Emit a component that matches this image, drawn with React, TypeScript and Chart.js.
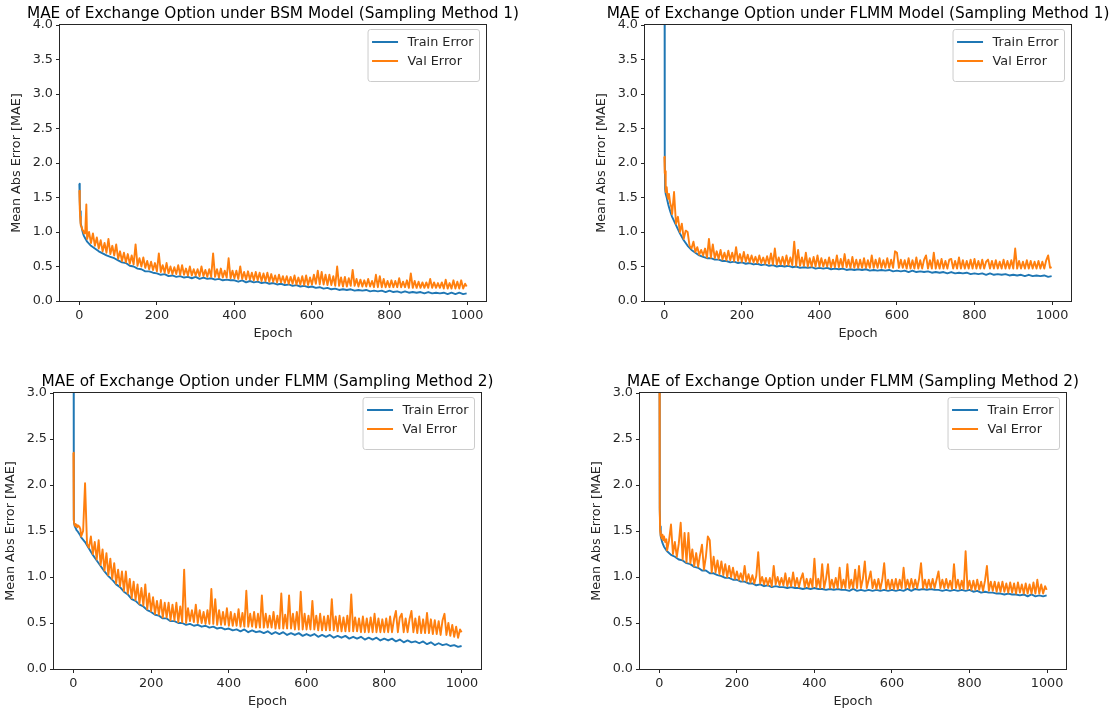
import React, { useEffect, useRef } from "react";
import { Chart, registerables } from "chart.js";

Chart.register(...registerables);

const FONT = "'DejaVu Sans', 'Liberation Sans', sans-serif";
const TEXT = "#262626";
const TRAIN_COLOR = "#1f77b4";
const VAL_COLOR = "#ff7f0e";
const TICK_SIZE = 12.8;
const TITLE_SIZE = 15.3;

const seriesLabels = ["Train Error", "Val Error"];
const xLabel = "Epoch";
const yLabel = "Mean Abs Error [MAE]";
const xTicks = [0, 200, 400, 600, 800, 1000];
const yTicks4 = [0, 0.5, 1, 1.5, 2, 2.5, 3, 3.5, 4];
const yTicks3 = [0, 0.5, 1, 1.5, 2, 2.5, 3];

const titles = [
  "MAE of Exchange Option under BSM Model (Sampling Method 1)",
  "MAE of Exchange Option under FLMM Model (Sampling Method 1)",
  "MAE of Exchange Option under FLMM (Sampling Method 2)",
  "MAE of Exchange Option under FLMM (Sampling Method 2)",
];

// epochs at which the training curves were read
const trainEpochs = [
  0, 1, 2, 3, 4, 6, 8, 10, 12, 15, 18,
  20, 30, 40, 50, 60, 70, 80, 90,
  100, 110, 120, 130, 140, 150, 160, 170, 180, 190,
  200, 210, 220, 230, 240, 250, 260, 270, 280, 290,
  300, 310, 320, 330, 340, 350, 360, 370, 380, 390,
  400, 410, 420, 430, 440, 450, 460, 470, 480, 490,
  500, 510, 520, 530, 540, 550, 560, 570, 580, 590,
  600, 610, 620, 630, 640, 650, 660, 670, 680, 690,
  700, 710, 720, 730, 740, 750, 760, 770, 780, 790,
  800, 810, 820, 830, 840, 850, 860, 870, 880, 890,
  900, 910, 920, 930, 940, 950, 960, 970, 980, 990,
  999,
];

// epochs at which the validation curves were read
const valEpochs = [
  0, 1, 2, 3, 4, 6, 8, 10, 12, 15, 18,
  20, 25, 30, 35, 40, 45, 50, 55, 60, 65, 70, 75, 80, 85, 90, 95,
  100, 105, 110, 115, 120, 125, 130, 135, 140, 145, 150, 155, 160, 165, 170, 175, 180, 185, 190, 195,
  200, 205, 210, 215, 220, 225, 230, 235, 240, 245, 250, 255, 260, 265, 270, 275, 280, 285, 290, 295,
  300, 305, 310, 315, 320, 325, 330, 335, 340, 345, 350, 355, 360, 365, 370, 375, 380, 385, 390, 395,
  400, 405, 410, 415, 420, 425, 430, 435, 440, 445, 450, 455, 460, 465, 470, 475, 480, 485, 490, 495,
  500, 505, 510, 515, 520, 525, 530, 535, 540, 545, 550, 555, 560, 565, 570, 575, 580, 585, 590, 595,
  600, 605, 610, 615, 620, 625, 630, 635, 640, 645, 650, 655, 660, 665, 670, 675, 680, 685, 690, 695,
  700, 705, 710, 715, 720, 725, 730, 735, 740, 745, 750, 755, 760, 765, 770, 775, 780, 785, 790, 795,
  800, 805, 810, 815, 820, 825, 830, 835, 840, 845, 850, 855, 860, 865, 870, 875, 880, 885, 890, 895,
  900, 905, 910, 915, 920, 925, 930, 935, 940, 945, 950, 955, 960, 965, 970, 975, 980, 985, 990, 995,
  999,
];

// ---- Panel 1: BSM Model (Sampling Method 1)
const trainBsm1 = [
  1.70, 1.45, 1.30, 1.20, 1.13, 1.06, 1.01, 0.97, 0.94, 0.91, 0.88,
  0.86, 0.80, 0.76, 0.72, 0.69, 0.66, 0.64, 0.62,
  0.59, 0.56, 0.55, 0.51, 0.50, 0.47, 0.46, 0.43, 0.43, 0.41,
  0.40, 0.38, 0.39, 0.36, 0.37, 0.35, 0.36, 0.34, 0.35, 0.33,
  0.35, 0.32, 0.34, 0.32, 0.33, 0.31, 0.32, 0.30, 0.31, 0.30,
  0.30, 0.28, 0.30, 0.27, 0.29, 0.27, 0.28, 0.26, 0.27, 0.25,
  0.26, 0.24, 0.25, 0.23, 0.24, 0.22, 0.23, 0.21, 0.22, 0.20,
  0.21, 0.19, 0.20, 0.18, 0.19, 0.17, 0.18, 0.16, 0.17, 0.16,
  0.17, 0.15, 0.16, 0.15, 0.16, 0.14, 0.15, 0.14, 0.15, 0.13,
  0.15, 0.13, 0.14, 0.12, 0.14, 0.12, 0.13, 0.12, 0.13, 0.11,
  0.13, 0.11, 0.12, 0.11, 0.12, 0.10, 0.12, 0.10, 0.12, 0.10,
  0.11,
];
const valBsm1 = [
  1.60, 1.35, 1.22, 1.15, 1.10, 1.07, 1.03, 1.02, 0.98, 0.98, 1.40,
  0.90, 1.00, 0.84, 0.98, 0.80, 0.92, 0.76, 0.88, 0.72, 0.84, 0.70, 0.90, 0.68, 0.80, 0.66, 0.82,
  0.61, 0.72, 0.58, 0.70, 0.56, 0.68, 0.54, 0.66, 0.53, 0.82, 0.51, 0.62, 0.50, 0.63, 0.48, 0.58, 0.46, 0.57, 0.45, 0.55,
  0.43, 0.69, 0.42, 0.52, 0.41, 0.55, 0.40, 0.50, 0.39, 0.49, 0.39, 0.52, 0.38, 0.52, 0.38, 0.47, 0.37, 0.50, 0.37, 0.46,
  0.37, 0.46, 0.36, 0.50, 0.36, 0.45, 0.35, 0.46, 0.35, 0.69, 0.35, 0.46, 0.34, 0.47, 0.34, 0.44, 0.34, 0.62, 0.33, 0.44,
  0.33, 0.44, 0.32, 0.50, 0.32, 0.42, 0.31, 0.43, 0.31, 0.41, 0.30, 0.42, 0.30, 0.41, 0.29, 0.40, 0.29, 0.41, 0.28, 0.39,
  0.28, 0.37, 0.27, 0.38, 0.27, 0.36, 0.26, 0.36, 0.25, 0.35, 0.25, 0.37, 0.24, 0.34, 0.24, 0.36, 0.23, 0.37, 0.23, 0.34,
  0.24, 0.38, 0.25, 0.44, 0.24, 0.42, 0.24, 0.38, 0.23, 0.38, 0.23, 0.36, 0.22, 0.50, 0.22, 0.34, 0.21, 0.35, 0.21, 0.33,
  0.22, 0.45, 0.22, 0.32, 0.21, 0.31, 0.21, 0.30, 0.21, 0.32, 0.21, 0.29, 0.20, 0.38, 0.20, 0.36, 0.20, 0.32, 0.20, 0.29,
  0.20, 0.30, 0.20, 0.29, 0.20, 0.33, 0.20, 0.28, 0.20, 0.30, 0.19, 0.40, 0.19, 0.29, 0.19, 0.28, 0.19, 0.27, 0.19, 0.27,
  0.19, 0.32, 0.19, 0.27, 0.19, 0.26, 0.19, 0.27, 0.18, 0.31, 0.18, 0.26, 0.18, 0.30, 0.18, 0.28, 0.18, 0.30, 0.18, 0.25,
  0.21,
];

// ---- Panel 2: FLMM Model (Sampling Method 1)
const trainFlmm1 = [
  8.00, 2.05, 1.62, 1.58, 1.55, 1.50, 1.45, 1.40, 1.36, 1.30, 1.25,
  1.22, 1.10, 0.98, 0.88, 0.80, 0.74, 0.70, 0.66,
  0.64, 0.62, 0.62, 0.60, 0.60, 0.58, 0.58, 0.56, 0.57, 0.55,
  0.56, 0.54, 0.55, 0.53, 0.54, 0.52, 0.53, 0.51, 0.52, 0.50,
  0.51, 0.50, 0.51, 0.49, 0.50, 0.48, 0.49, 0.48, 0.49, 0.47,
  0.48, 0.47, 0.48, 0.46, 0.47, 0.46, 0.47, 0.45, 0.46, 0.45,
  0.46, 0.45, 0.46, 0.44, 0.45, 0.44, 0.45, 0.44, 0.45, 0.43,
  0.44, 0.43, 0.44, 0.42, 0.44, 0.42, 0.43, 0.42, 0.43, 0.41,
  0.42, 0.41, 0.42, 0.40, 0.42, 0.40, 0.41, 0.40, 0.41, 0.39,
  0.40, 0.39, 0.40, 0.38, 0.40, 0.38, 0.39, 0.38, 0.39, 0.37,
  0.38, 0.37, 0.38, 0.36, 0.38, 0.36, 0.37, 0.36, 0.37, 0.35,
  0.36,
];
const valFlmm1 = [
  2.09, 1.85, 1.88, 1.62, 1.58, 1.65, 1.52, 1.48, 1.55, 1.42, 1.36,
  1.26, 1.58, 1.12, 1.22, 1.00, 1.12, 0.90, 1.02, 1.00, 0.80, 0.76, 0.86, 0.71, 0.78, 0.67, 0.74,
  0.66, 0.76, 0.63, 0.90, 0.63, 0.82, 0.62, 0.72, 0.61, 0.74, 0.60, 0.70, 0.59, 0.73, 0.59, 0.70, 0.58, 0.78, 0.58, 0.68,
  0.57, 0.71, 0.57, 0.67, 0.56, 0.66, 0.56, 0.64, 0.55, 0.66, 0.55, 0.63, 0.54, 0.65, 0.54, 0.69, 0.53, 0.76, 0.53, 0.63,
  0.53, 0.64, 0.52, 0.66, 0.52, 0.63, 0.52, 0.86, 0.51, 0.74, 0.51, 0.63, 0.51, 0.70, 0.50, 0.62, 0.50, 0.64, 0.50, 0.66,
  0.50, 0.62, 0.50, 0.60, 0.50, 0.63, 0.49, 0.60, 0.49, 0.66, 0.49, 0.61, 0.49, 0.68, 0.49, 0.60, 0.48, 0.64, 0.48, 0.60,
  0.48, 0.60, 0.48, 0.62, 0.48, 0.59, 0.48, 0.66, 0.48, 0.60, 0.48, 0.62, 0.48, 0.59, 0.48, 0.62, 0.48, 0.60, 0.48, 0.72,
  0.70, 0.48, 0.60, 0.48, 0.59, 0.47, 0.62, 0.47, 0.59, 0.47, 0.63, 0.47, 0.59, 0.47, 0.60, 0.66, 0.47, 0.59, 0.47, 0.70,
  0.47, 0.59, 0.47, 0.61, 0.47, 0.58, 0.47, 0.60, 0.61, 0.47, 0.58, 0.47, 0.63, 0.47, 0.59, 0.47, 0.58, 0.47, 0.60, 0.47,
  0.61, 0.47, 0.58, 0.47, 0.60, 0.47, 0.57, 0.60, 0.47, 0.58, 0.47, 0.59, 0.47, 0.57, 0.47, 0.60, 0.47, 0.58, 0.47, 0.59,
  0.47, 0.76, 0.47, 0.58, 0.47, 0.57, 0.47, 0.59, 0.47, 0.58, 0.47, 0.57, 0.47, 0.58, 0.47, 0.57, 0.47, 0.59, 0.66, 0.48,
  0.49,
];

// ---- Panel 3: FLMM (Sampling Method 2)
const trainFlmm2a = [
  6.00, 1.62, 1.58, 1.56, 1.55, 1.53, 1.51, 1.50, 1.49, 1.47, 1.45,
  1.43, 1.38, 1.31, 1.24, 1.18, 1.12, 1.06, 1.01,
  0.97, 0.92, 0.89, 0.84, 0.81, 0.76, 0.74, 0.70, 0.68, 0.64,
  0.62, 0.59, 0.58, 0.55, 0.55, 0.52, 0.52, 0.50, 0.50, 0.48,
  0.49, 0.47, 0.48, 0.46, 0.47, 0.45, 0.46, 0.44, 0.45, 0.43,
  0.44, 0.42, 0.43, 0.41, 0.43, 0.40, 0.42, 0.40, 0.41, 0.39,
  0.41, 0.38, 0.40, 0.38, 0.40, 0.37, 0.39, 0.37, 0.39, 0.36,
  0.38, 0.36, 0.38, 0.35, 0.37, 0.35, 0.37, 0.34, 0.36, 0.34,
  0.36, 0.33, 0.35, 0.33, 0.35, 0.32, 0.34, 0.32, 0.34, 0.31,
  0.33, 0.31, 0.33, 0.30, 0.32, 0.29, 0.31, 0.29, 0.30, 0.28,
  0.30, 0.27, 0.29, 0.26, 0.28, 0.26, 0.27, 0.25, 0.26, 0.24,
  0.25,
];
const valFlmm2a = [
  2.35, 1.62, 1.58, 1.57, 1.56, 1.55, 1.57, 1.54, 1.56, 1.55, 1.52,
  1.44, 1.50, 2.02, 1.36, 1.32, 1.44, 1.25, 1.38, 1.19, 1.40, 1.13, 1.30, 1.07, 1.26, 1.02, 1.20,
  0.98, 1.15, 0.93, 1.08, 0.90, 1.06, 0.85, 1.06, 0.82, 0.98, 0.77, 0.95, 0.75, 0.92, 0.71, 0.88, 0.69, 0.92, 0.65, 0.82,
  0.63, 0.78, 0.60, 0.74, 0.59, 0.75, 0.56, 0.72, 0.56, 0.72, 0.53, 0.70, 0.53, 0.72, 0.51, 0.68, 0.51, 1.08, 0.50, 0.66,
  0.52, 0.64, 0.51, 0.70, 0.50, 0.64, 0.50, 0.62, 0.49, 0.64, 0.49, 0.87, 0.49, 0.76, 0.48, 0.64, 0.48, 0.62, 0.48, 0.66,
  0.47, 0.62, 0.47, 0.60, 0.47, 0.65, 0.46, 0.61, 0.46, 0.85, 0.46, 0.60, 0.46, 0.62, 0.45, 0.60, 0.45, 0.80, 0.45, 0.60,
  0.45, 0.58, 0.45, 0.62, 0.44, 0.58, 0.44, 0.82, 0.44, 0.59, 0.44, 0.80, 0.44, 0.60, 0.43, 0.62, 0.43, 0.84, 0.43, 0.60,
  0.43, 0.58, 0.43, 0.74, 0.43, 0.58, 0.42, 0.60, 0.42, 0.57, 0.42, 0.58, 0.42, 0.76, 0.42, 0.57, 0.41, 0.58, 0.41, 0.56,
  0.41, 0.58, 0.41, 0.81, 0.41, 0.56, 0.41, 0.55, 0.40, 0.57, 0.40, 0.55, 0.40, 0.56, 0.40, 0.60, 0.40, 0.55, 0.40, 0.54,
  0.40, 0.55, 0.40, 0.57, 0.40, 0.54, 0.63, 0.40, 0.56, 0.60, 0.40, 0.55, 0.40, 0.54, 0.63, 0.40, 0.55, 0.39, 0.57, 0.39,
  0.54, 0.39, 0.61, 0.39, 0.54, 0.38, 0.53, 0.38, 0.52, 0.37, 0.53, 0.60, 0.37, 0.50, 0.36, 0.48, 0.35, 0.46, 0.34, 0.43,
  0.40,
];

// ---- Panel 4: FLMM (Sampling Method 2), second run
const trainFlmm2b = [
  4.50, 1.75, 1.55, 1.48, 1.44, 1.40, 1.37, 1.35, 1.33, 1.31, 1.29,
  1.28, 1.24, 1.22, 1.19, 1.18, 1.15, 1.14, 1.11,
  1.10, 1.07, 1.07, 1.04, 1.04, 1.02, 1.01, 0.99, 0.99, 0.97,
  0.97, 0.95, 0.95, 0.93, 0.93, 0.91, 0.92, 0.90, 0.91, 0.89,
  0.90, 0.89, 0.89, 0.88, 0.89, 0.88, 0.88, 0.87, 0.88, 0.87,
  0.88, 0.87, 0.87, 0.86, 0.87, 0.86, 0.87, 0.86, 0.86, 0.85,
  0.87, 0.85, 0.86, 0.85, 0.86, 0.85, 0.86, 0.85, 0.86, 0.85,
  0.86, 0.85, 0.86, 0.85, 0.87, 0.85, 0.87, 0.86, 0.87, 0.86,
  0.87, 0.86, 0.86, 0.85, 0.86, 0.85, 0.86, 0.85, 0.86, 0.85,
  0.86, 0.84, 0.85, 0.83, 0.84, 0.83, 0.83, 0.82, 0.82, 0.81,
  0.82, 0.81, 0.81, 0.80, 0.81, 0.79, 0.81, 0.79, 0.80, 0.79,
  0.80,
];
const valFlmm2b = [
  3.60, 1.72, 1.50, 1.45, 1.48, 1.42, 1.46, 1.40, 1.44, 1.38, 1.41,
  1.29, 1.40, 1.57, 1.25, 1.38, 1.22, 1.36, 1.59, 1.19, 1.48, 1.16, 1.48, 1.15, 1.30, 1.12, 1.26,
  1.11, 1.24, 1.35, 1.08, 1.22, 1.44, 1.40, 1.05, 1.22, 1.05, 1.18, 1.03, 1.17, 1.02, 1.14, 1.00, 1.12, 1.00, 1.10, 0.98,
  1.06, 0.97, 1.04, 0.96, 1.12, 0.95, 1.03, 0.94, 1.02, 0.93, 1.01, 1.27, 0.93, 1.00, 0.92, 0.99, 0.91, 0.99, 0.90, 1.12,
  0.92, 1.00, 0.91, 0.99, 0.91, 1.04, 0.90, 0.99, 0.90, 1.05, 0.90, 0.99, 0.89, 0.98, 1.04, 0.89, 0.98, 0.89, 0.98, 0.89,
  1.20, 0.89, 0.98, 0.88, 1.14, 0.88, 0.98, 1.14, 0.88, 0.97, 0.88, 0.99, 0.88, 1.10, 0.88, 0.97, 0.88, 1.14, 0.88, 0.97,
  0.88, 1.08, 0.88, 1.12, 0.88, 0.98, 1.17, 0.88, 0.97, 1.06, 0.88, 0.97, 0.87, 0.98, 0.87, 0.97, 1.15, 0.87, 0.97, 0.87,
  0.97, 0.87, 0.98, 0.87, 0.97, 0.88, 1.10, 0.88, 0.97, 0.88, 0.98, 0.88, 0.97, 0.88, 0.98, 1.15, 0.88, 0.97, 0.88, 0.97,
  0.88, 0.98, 0.88, 0.97, 1.06, 0.88, 0.97, 0.88, 0.98, 0.88, 0.96, 0.87, 1.14, 0.88, 0.97, 0.87, 0.96, 0.87, 1.28, 0.87,
  0.96, 0.86, 0.96, 0.86, 0.97, 0.86, 0.95, 0.85, 0.96, 1.12, 0.85, 0.95, 0.85, 0.95, 0.84, 0.94, 0.84, 0.95, 0.84, 0.93,
  0.83, 0.94, 0.83, 0.93, 0.82, 0.94, 0.83, 0.92, 0.82, 0.93, 0.82, 0.92, 0.82, 0.94, 0.82, 0.97, 0.82, 0.92, 0.82, 0.90,
  0.86,
];

type Box = { L: number; T: number; R: number; B: number };

const PAD_Y = 55; // width reserved for y axis
const PAD_TOP = 25;
const PAD_BOTTOM = 45;
const PAD_RIGHT = 10;
const EXTRA = 45;

function Panel(props: {
  box: Box;
  title: string;
  yTicks: number[];
  train: number[];
  val: number[];
}) {
  const { box, title, yTicks, train, val } = props;
  const ref = useRef<HTMLCanvasElement | null>(null);
  const width = EXTRA + PAD_Y + (box.R - box.L) + PAD_RIGHT + EXTRA;
  const height = PAD_TOP + (box.B - box.T) + PAD_BOTTOM;

  useEffect(() => {
    const canvas = ref.current;
    if (!canvas) return;
    const tickFont = { family: FONT, size: TICK_SIZE };

    const decor = {
      id: "decor",
      afterDraw(chart: any) {
        const { ctx, chartArea: a } = chart;
        ctx.save();
        // full frame (matplotlib spines)
        ctx.strokeStyle = TEXT;
        ctx.lineWidth = 1;
        ctx.strokeRect(
          Math.round(a.left) - 0.5,
          Math.round(a.top) - 0.5,
          Math.round(a.right - a.left) + 1,
          Math.round(a.bottom - a.top) + 1
        );
        // title
        ctx.fillStyle = "#000";
        ctx.font = `${TITLE_SIZE}px ${FONT}`;
        ctx.textAlign = "center";
        ctx.textBaseline = "alphabetic";
        ctx.fillText(title, (a.left + a.right) / 2, a.top - 7);
        // legend
        ctx.font = `${TICK_SIZE}px ${FONT}`;
        const tw = Math.max(...seriesLabels.map((l) => ctx.measureText(l).width));
        const bw = 39.5 + tw + 6;
        const bh = 52;
        const bx = a.right - 6.5 - bw;
        const by = a.top + 4.5;
        const r = 2.5;
        ctx.beginPath();
        ctx.moveTo(bx + r, by);
        ctx.lineTo(bx + bw - r, by);
        ctx.arcTo(bx + bw, by, bx + bw, by + r, r);
        ctx.lineTo(bx + bw, by + bh - r);
        ctx.arcTo(bx + bw, by + bh, bx + bw - r, by + bh, r);
        ctx.lineTo(bx + r, by + bh);
        ctx.arcTo(bx, by + bh, bx, by + bh - r, r);
        ctx.lineTo(bx, by + r);
        ctx.arcTo(bx, by, bx + r, by, r);
        ctx.closePath();
        ctx.fillStyle = "rgba(255,255,255,0.8)";
        ctx.fill();
        ctx.strokeStyle = "#cccccc";
        ctx.lineWidth = 1;
        ctx.stroke();
        const colors = [TRAIN_COLOR, VAL_COLOR];
        seriesLabels.forEach((lab, i) => {
          const yy = by + 12.5 + i * 19;
          ctx.beginPath();
          ctx.strokeStyle = colors[i];
          ctx.lineWidth = 2;
          ctx.moveTo(bx + 4, yy);
          ctx.lineTo(bx + 30, yy);
          ctx.stroke();
          ctx.fillStyle = TEXT;
          ctx.textAlign = "left";
          ctx.textBaseline = "middle";
          ctx.fillText(lab, bx + 39.5, yy + 0.5);
        });
        ctx.restore();
      },
    };

    const gridCfg = {
      drawOnChartArea: false,
      drawTicks: true,
      tickLength: 4,
      color: TEXT,
      lineWidth: 1,
    };

    const chart = new Chart(canvas, {
      type: "line",
      data: {
        datasets: [
          {
            label: seriesLabels[0],
            data: trainEpochs.map((x, i) => ({ x, y: train[i] })),
            borderColor: TRAIN_COLOR,
            backgroundColor: TRAIN_COLOR,
            borderWidth: 1.9,
            pointRadius: 0,
            tension: 0,
            borderJoinStyle: "round",
            fill: false,
            order: 1,
          },
          {
            label: seriesLabels[1],
            data: valEpochs.map((x, i) => ({ x, y: val[i] })),
            borderColor: VAL_COLOR,
            backgroundColor: VAL_COLOR,
            borderWidth: 1.9,
            pointRadius: 0,
            tension: 0,
            borderJoinStyle: "round",
            fill: false,
            order: 0,
          },
        ],
      },
      options: {
        responsive: false,
        animation: false,
        devicePixelRatio: 1,
        layout: {
          padding: { left: EXTRA, right: PAD_RIGHT + EXTRA, top: PAD_TOP, bottom: 0 },
        },
        plugins: {
          legend: { display: false },
          tooltip: { enabled: false },
          title: { display: false },
        },
        scales: {
          x: {
            type: "linear",
            min: -49.95,
            max: 1048.95,
            afterBuildTicks: (s: any) => {
              s.ticks = xTicks.map((v) => ({ value: v }));
            },
            afterFit: (s: any) => {
              s.height = PAD_BOTTOM;
            },
            grid: gridCfg,
            border: { display: false },
            ticks: {
              font: tickFont,
              color: TEXT,
              padding: 3,
              maxRotation: 0,
              autoSkip: false,
              callback: (v: any) => String(v),
            },
            title: {
              display: true,
              text: xLabel,
              font: tickFont,
              color: TEXT,
              padding: { top: 0, bottom: 5 },
            },
          },
          y: {
            type: "linear",
            min: 0,
            max: yTicks[yTicks.length - 1],
            afterBuildTicks: (s: any) => {
              s.ticks = yTicks.map((v) => ({ value: v }));
            },
            afterFit: (s: any) => {
              s.width = PAD_Y;
            },
            grid: gridCfg,
            border: { display: false },
            ticks: {
              font: tickFont,
              color: TEXT,
              padding: 3,
              autoSkip: false,
              callback: (v: any) => Number(v).toFixed(1),
            },
            title: {
              display: true,
              text: yLabel,
              font: tickFont,
              color: TEXT,
              padding: { top: 4, bottom: 0 },
            },
          },
        },
      } as any,
      plugins: [decor],
    });
    return () => chart.destroy();
  }, []);

  return (
    <canvas
      ref={ref}
      width={width}
      height={height}
      style={{
        position: "absolute",
        left: box.L - PAD_Y - EXTRA,
        top: box.T - PAD_TOP,
        width,
        height,
      }}
    />
  );
}

export default function App() {
  return (
    <div
      style={{
        position: "absolute",
        left: 0,
        top: 0,
        width: 1115,
        height: 714,
        background: "#fff",
        overflow: "hidden",
      }}
    >
      <Panel box={{ L: 60, T: 25, R: 486, B: 301 }} title={titles[0]} yTicks={yTicks4} train={trainBsm1} val={valBsm1} />
      <Panel box={{ L: 645, T: 25, R: 1071, B: 301 }} title={titles[1]} yTicks={yTicks4} train={trainFlmm1} val={valFlmm1} />
      <Panel box={{ L: 54, T: 393, R: 481, B: 669 }} title={titles[2]} yTicks={yTicks3} train={trainFlmm2a} val={valFlmm2a} />
      <Panel box={{ L: 640, T: 393, R: 1066, B: 669 }} title={titles[3]} yTicks={yTicks3} train={trainFlmm2b} val={valFlmm2b} />
    </div>
  );
}
